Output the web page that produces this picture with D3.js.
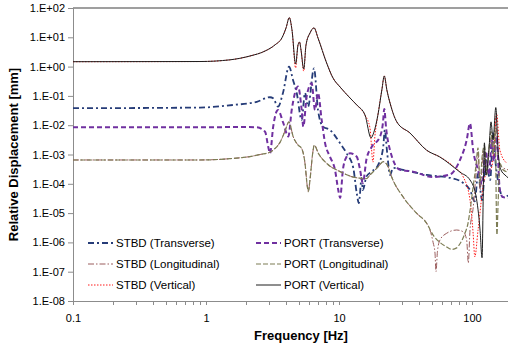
<!DOCTYPE html>
<html><head><meta charset="utf-8">
<script src="https://cdn.jsdelivr.net/npm/d3@7"></script>
<style>body{margin:0;background:#fff}svg{display:block}text{font-family:"Liberation Sans",Arial,sans-serif}</style>
</head><body><svg id="c" width="508" height="349"></svg>
<script>
const seriesNames = ["STBD (Transverse)","STBD (Longitudinal)","STBD (Vertical)","PORT (Transverse)","PORT (Longitudinal)","PORT (Vertical)"];
const yTickValues = [1e-8,1e-7,1e-6,1e-5,1e-4,1e-3,1e-2,1e-1,1e0,1e1,1e2];
const yTickLabels = ["1.E-08","1.E-07","1.E-06","1.E-05","1.E-04","1.E-03","1.E-02","1.E-01","1.E+00","1.E+01","1.E+02"];
const xTickValues = [0.1,1,10,100];
const xTickLabels = ["0.1","1","10","100"];
const xTitle = "Frequency [Hz]";
const yTitle = "Relative Displacement [mm]";

const stbdTransverse = [[0.1,0.038],[0.9,0.040],[1.6,0.049],[2.41,0.063],[3.03,0.090],[3.20,0.083],[3.48,0.043],[3.79,0.126],[4.21,0.99],[4.51,0.35],[4.81,0.126],[5.24,0.015],[5.55,0.126],[5.85,0.043],[6.49,0.875],[6.95,0.033],[7.58,0.0089],[8.55,0.0069],[10.2,0.0024],[11.4,0.0011],[12.8,0.00035],[13.6,4.7e-5],[14.1,2.2e-5],[14.8,0.00016],[15.1,6.1e-5],[16.1,0.00018],[17.6,0.00026],[19.7,0.00044],[21.5,0.0018],[22.1,0.0069],[23.0,0.0012],[24.2,0.0002],[25.5,0.00035],[30.3,0.0003],[45.6,0.0002],[68.4,0.00016],[86,0.000106],[96.6,6.1e-5],[105,2.5e-5],[111,0.00023],[119,2.8e-5],[127,0.00065],[137,0.000135],[144,0.0054],[151,0.00044],[162,6.1e-5],[171,3.5e-5],[187,4e-5]];
const stbdLongitudinal = [[0.1,0.00065],[0.9,0.00065],[1.51,0.00072],[2.14,0.00085],[2.55,0.001],[3.03,0.0012],[3.3,0.0016],[3.6,0.0026],[3.81,0.0045],[4.0,0.0080],[4.2,0.013],[4.53,0.0040],[4.92,0.0021],[5.24,0.0016],[5.55,0.0005],[5.78,8e-5],[5.88,5.4e-5],[6.05,0.000135],[6.34,0.0011],[6.52,0.0021],[6.99,0.0011],[8.07,0.0005],[10.2,0.00026],[12.8,0.00017],[16.1,0.00015],[17.1,0.0002],[19.7,0.00038],[21.5,0.00057],[23.4,0.00038],[24.9,0.00017],[30.3,3.6e-5],[38.4,9.8e-6],[45.6,4.5e-6],[48.3,2.65e-6],[51,1.0e-6],[52.7,4.3e-7],[53.6,1.0e-7],[55,5e-7],[57.4,1.2e-6],[64.5,2.05e-6],[76.7,2.65e-6],[86,2.3e-6],[91.2,1.2e-6],[93.8,2.0e-7],[96.6,2.65e-6],[102,1.5e-5],[107,0.0002],[111,0.0012],[115,6e-5],[122,0.0013],[127,0.0003],[134,0.0014],[141,0.004],[146,0.0008],[151,0.02],[157,0.0007],[165,0.0004],[187,0.0003]];
const stbdVertical = [[0.1,1.47],[0.9,1.49],[1.51,1.7],[2.14,2.3],[2.78,3.4],[3.30,5.5],[3.72,9.5],[4.00,21],[4.23,47],[4.43,18],[4.72,0.9],[4.92,5.5],[5.05,6.9],[5.18,3.7],[5.43,0.7],[5.65,5.5],[6.05,14],[6.49,21],[6.95,9.5],[8.07,1.33],[9.01,0.41],[10.2,0.20],[12.1,0.085],[13.6,0.049],[15.7,0.022],[17.1,0.008],[18.0,0.00055],[18.6,0.004],[19.6,0.022],[21.0,0.16],[21.9,0.48],[22.9,0.16],[24.2,0.057],[27.2,0.013],[34.2,0.0054],[45.6,0.0014],[57.4,0.00082],[72.3,0.00040],[86.0,0.00017],[96.6,2.8e-5],[102,2.0e-6],[105,3.2e-7],[111,2.6e-6],[125,1.7e-4],[141,0.00038],[149,0.0054],[153,0.026],[162,0.0014],[183,0.0005]];
const portTransverse = [[0.1,0.0085],[0.9,0.0085],[2.0,0.0087],[2.41,0.0085],[2.78,0.0060],[2.94,0.0018],[3.03,0.0011],[3.20,0.0089],[3.40,0.03],[3.48,0.033],[3.81,0.0119],[4.16,0.0041],[4.41,0.033],[4.67,0.126],[4.92,0.21],[5.24,0.033],[5.39,0.0089],[5.71,0.094],[6.23,0.27],[6.60,0.033],[6.95,0.126],[7.41,0.015],[7.85,0.0025],[8.55,0.00084],[9.33,0.0003],[9.88,6e-5],[10.2,3.3e-5],[10.7,0.0003],[11.4,0.00084],[12.1,0.0011],[13.6,0.00084],[14.4,0.0003],[15.1,0.000106],[16.1,0.0007],[17.6,0.0018],[20.3,0.0040],[21.4,0.012],[21.9,0.036],[22.6,0.008],[24.2,0.0014],[28.8,0.0003],[36.0,0.00026],[50.9,0.00017],[68.4,0.00021],[81.2,0.00065],[91.2,0.0031],[96.6,0.0116],[102,0.0014],[111,0.0003],[119,0.0001],[127,0.0013],[134,0.0002],[141,0.003],[146,0.0006],[153,0.004],[162,6e-5],[171,3.5e-5],[187,3.3e-5]];
const portLongitudinal = [[0.1,0.00065],[0.9,0.00065],[1.51,0.00072],[2.14,0.00085],[2.55,0.001],[3.03,0.0012],[3.3,0.0016],[3.6,0.0026],[3.81,0.0045],[4.0,0.0080],[4.2,0.013],[4.53,0.0040],[4.92,0.0021],[5.24,0.0016],[5.55,0.0005],[5.78,8e-5],[5.88,5.4e-5],[6.05,0.000135],[6.34,0.0011],[6.52,0.0021],[6.99,0.0011],[8.07,0.0005],[10.2,0.00026],[12.8,0.00017],[16.1,0.00015],[17.1,0.0002],[19.7,0.00038],[21.5,0.00057],[23.4,0.00038],[24.9,0.00017],[30.3,3.6e-5],[38.4,9.8e-6],[45.6,4.5e-6],[50.9,1.8e-6],[57.4,1.0e-6],[64.5,7e-7],[70.4,5.8e-7],[76.7,6.5e-7],[81.2,9e-7],[88.5,2.05e-6],[93.3,4.5e-6],[96.6,1.2e-5],[102,8e-5],[107,0.0004],[111,0.0017],[115,0.0001],[119,0.0008],[124,0.002],[129,0.0002],[134,0.0016],[139,0.006],[144,0.001],[149,0.008],[154,1.8e-6],[157,2e-5],[162,0.0005],[171,0.0003],[187,0.00025]];
const portVertical = [[0.1,1.47],[0.9,1.49],[1.51,1.7],[2.14,2.3],[2.78,3.4],[3.30,5.5],[3.72,9.5],[4.00,21],[4.23,47],[4.43,18],[4.72,1.23],[4.92,5.5],[5.05,6.9],[5.18,3.7],[5.43,0.83],[5.65,5.5],[6.05,14],[6.49,21],[6.95,9.5],[8.07,1.33],[9.01,0.41],[10.2,0.20],[12.1,0.085],[13.6,0.049],[15.7,0.022],[17.4,0.0037],[18.3,0.0058],[19.6,0.022],[21.0,0.16],[21.9,0.48],[22.9,0.16],[24.2,0.057],[27.2,0.013],[34.2,0.0054],[45.6,0.0014],[57.4,0.00082],[81.2,0.00025],[96.6,0.000135],[107,4e-5],[115,2.6e-6],[119,3.0e-7],[122,1.35e-4],[124,0.0025],[127,2.0e-4],[134,0.0014],[139,0.013],[144,0.0031],[151,0.04],[157,0.0014],[165,3.0e-4],[177,2.0e-4],[187,1.6e-4]];

const seriesData = [stbdTransverse, stbdLongitudinal, stbdVertical, portTransverse, portLongitudinal, portVertical];
const styles = [
  {color:"#263c78", width:1.8, dash:"6,3,2,3"},
  {color:"#9a5c5c", width:1, dash:"6,2,1.5,2"},
  {color:"#ff1a1a", width:1, dash:"1.5,1.5"},
  {color:"#7030a0", width:2, dash:"5,3"},
  {color:"#7d7d55", width:1.2, dash:"5,2"},
  {color:"#1e1e1e", width:1, dash:null}
];

const svg = d3.select("#c");
const L = 73, T = 8, B = 301, R = 508;
const x = d3.scaleLog().domain([0.1, 200]).range([L, L + 133 * Math.log10(2000)]);
const y = d3.scaleLog().domain([1e-8, 100]).range([B, T]);

svg.append("defs").append("clipPath").attr("id","clip")
  .append("rect").attr("x",L).attr("y",T-2).attr("width",R-L).attr("height",B-T+2);

// top border
svg.append("line").attr("x1",L).attr("x2",R).attr("y1",y(100)).attr("y2",y(100))
  .attr("stroke","#404040").attr("stroke-width",1.2);

// y axis
const ya = svg.append("g").attr("transform",`translate(${L},0)`)
  .call(d3.axisLeft(y).tickValues(yTickValues).tickFormat((d,i)=>yTickLabels[i]).tickSize(5).tickPadding(3));
ya.select(".domain").attr("stroke","#8c8c8c");
ya.selectAll(".tick line").attr("stroke","#8c8c8c");
ya.selectAll("text").attr("font-size",11).attr("fill","#000").style("font-family","'Liberation Sans',Arial,sans-serif");

// x axis
const minor = [];
xTickValues.forEach(d => { for (let k=2;k<=9;k++){ const f=k*d; if (f<=200) minor.push(f);} });
const xa = svg.append("g").attr("transform",`translate(0,${B})`)
  .call(d3.axisBottom(x).tickValues(xTickValues).tickFormat((d,i)=>xTickLabels[i]).tickSize(4).tickPadding(9).tickSizeOuter(0));
xa.select(".domain").attr("stroke","#8c8c8c").attr("d",`M${L},0.5H${R}`);
xa.selectAll(".tick line").attr("stroke","#8c8c8c");
xa.selectAll("text").attr("font-size",11).attr("fill","#000").style("font-family","'Liberation Sans',Arial,sans-serif");
svg.append("g").selectAll("line").data(minor.filter(f=>x(f)<=R)).join("line")
  .attr("x1",d=>Math.round(x(d))+0.5).attr("x2",d=>Math.round(x(d))+0.5)
  .attr("y1",B).attr("y2",B+4).attr("stroke","#8c8c8c");

// series
const line = d3.line().x(d=>x(d[0])).y(d=>y(d[1])).curve(d3.curveMonotoneX);
const g = svg.append("g").attr("clip-path","url(#clip)");
seriesData.forEach((data,i)=>{
  const s = styles[i];
  g.append("path").datum(data).attr("d",line).attr("fill","none")
    .attr("stroke",s.color).attr("stroke-width",s.width)
    .attr("stroke-dasharray",s.dash).attr("stroke-linejoin","round");
});

// legend
const legPos = [[88,243],[88,264],[88,285],[256,243],[256,264],[256,285]];
seriesNames.forEach((name,i)=>{
  const [lx,ly] = legPos[i], s = styles[i];
  svg.append("line").attr("x1",lx).attr("x2",lx+25).attr("y1",ly).attr("y2",ly)
    .attr("stroke",s.color).attr("stroke-width",s.width).attr("stroke-dasharray",s.dash);
  svg.append("text").attr("x",lx+28).attr("y",ly).attr("dy","0.36em")
    .attr("font-size",11.5).attr("fill","#000").text(name);
});

// titles
svg.append("text").attr("x",301).attr("y",340).attr("text-anchor","middle")
  .attr("font-size",13).attr("font-weight","bold").text(xTitle);
svg.append("text").attr("transform",`translate(18,${(T+B)/2}) rotate(-90)`).attr("text-anchor","middle")
  .attr("font-size",13).attr("font-weight","bold").text(yTitle);
</script></body></html>
